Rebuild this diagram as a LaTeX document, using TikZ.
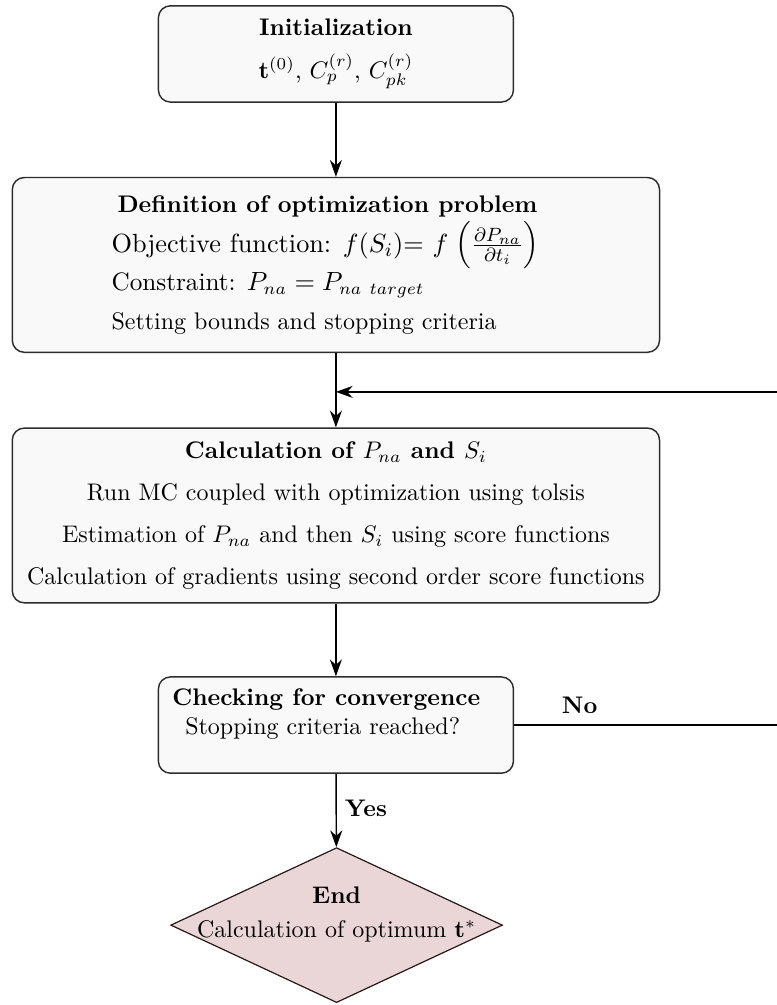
\documentclass[tikz,border=0pt]{standalone}
\usepackage{amsmath,amssymb}
\usetikzlibrary{arrows.meta, positioning, shapes.geometric}
\definecolor{boxfill}{RGB}{249,249,249}
\definecolor{boxline}{RGB}{45,45,45}
\definecolor{endfill}{RGB}{234,214,214}
\definecolor{endline}{RGB}{40,25,25}

\begin{document}
\begin{tikzpicture}[
  box/.style={draw=boxline, fill=boxfill, rounded corners=5pt, line width=0.6pt, align=center},
  smallbox/.style={box, minimum width=5.2cm, minimum height=1.41cm},
  widebox/.style={box, minimum width=9.48cm, minimum height=2.56cm},
  arr/.style={-{Stealth[length=7pt,width=5pt]}, line width=0.6pt},
  lbl/.style={font=\bfseries}
]
  \useasboundingbox (0,0) rectangle (11.38,-14.72);
  % Boxes
  \node[smallbox] (init) at (4.92,-0.79)
    {\textbf{Initialization}\\[6pt] $\mathbf{t}^{(0)}$, $C_p^{(r)}$, $C_{pk}^{(r)}$};
  \node[widebox, align=left] (def) at (4.92,-3.88)
    {\mbox{\hspace*{2.5pt}\textbf{Definition of optimization problem}\hspace*{9.5pt}}\\[1.2pt]
     {\fontsize{10.95}{13}\selectfont Objective function: $f(S_i)$= $f\;\Big(\frac{\partial P_{na}}{\partial t_i}\Big)$}\\[0.5pt]
     {\fontsize{10.5}{12.6}\selectfont Constraint: $P_{na}=P_{na\ target}$}\\[4.2pt]
     Setting bounds and stopping criteria};
  \node[widebox] (calc) at (4.92,-7.55)
    {\textbf{Calculation of $P_{na}$ and $S_i$}\\[5.5pt]
     Run MC coupled with optimization using tolsis\\[5.5pt]
     Estimation of $P_{na}$ and then $S_i$ using score functions\\[5.5pt]
     Calculation of gradients using second order score functions};
  \node[smallbox] (check) at (4.92,-10.62)
    {\mbox{\textbf{Checking for convergence}\hspace*{8pt}}\\
     \mbox{Stopping criteria reached?\hspace*{11pt}}\\[-1pt]\mbox{}};
  \node[diamond, draw=endline, fill=endfill, line width=0.5pt, minimum width=4.86cm,
        minimum height=2.27cm, inner sep=0pt] (finish) at (4.93,-13.55) {};
  \node[align=center] (finishtext) at ([yshift=0.16cm]finish.center)
    {\textbf{End}\\[2pt] Calculation of optimum $\mathbf{t}^*$};
  % Connectors
  \coordinate (merge) at (4.92,-5.74);
  \coordinate (loopR) at (11.7,-5.74);
  \draw[arr] (init) -- (def);
  \draw[arr] (def) -- (calc);
  \draw[arr] (calc) -- (check);
  \draw[arr] (check) -- node[lbl, right, pos=0.47] (yes) {Yes} (finish);
  \draw[arr] (check.east) -- node[lbl, above=1pt, pos=0.23] (no) {No} (check.east -| loopR)
    -- (loopR) -- (merge);
\end{tikzpicture}
\end{document}
